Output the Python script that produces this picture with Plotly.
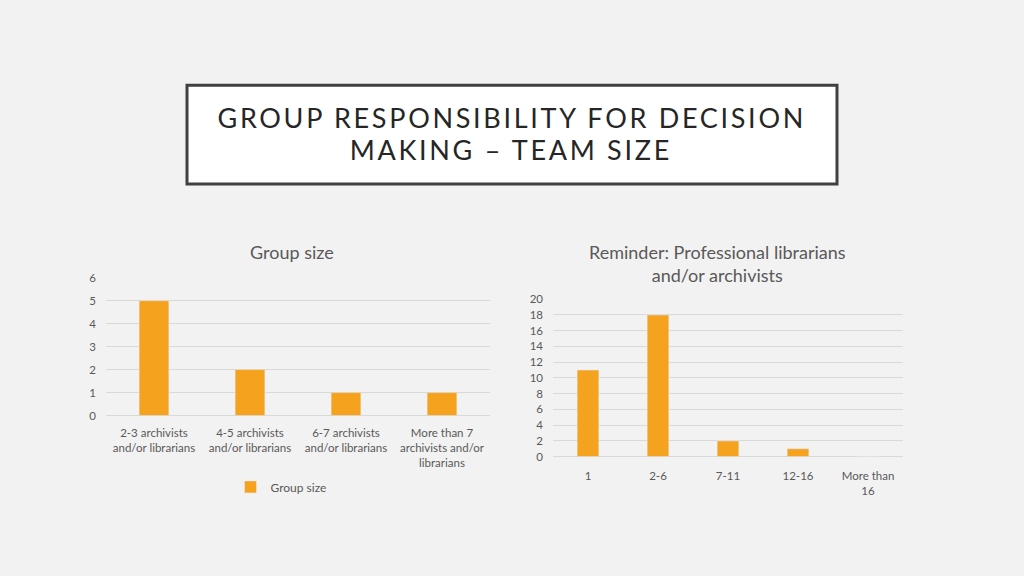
import plotly.graph_objects as go

W, H = 1024, 576

# Data
left_categories = ["2-3 archivists<br>and/or librarians", "4-5 archivists<br>and/or librarians",
                   "6-7 archivists<br>and/or librarians", "More than 7<br>archivists and/or<br>librarians"]
left_values = [5, 2, 1, 1]
right_categories = ["1", "2-6", "7-11", "12-16", "More than<br>16"]
right_values = [11, 18, 2, 1, 0]

title_lines = ["GROUP RESPONSIBILITY FOR DECISION", "MAKING – TEAM SIZE"]
left_title = "Group size"
right_title = "Reminder: Professional librarians<br>and/or archivists"
legend_name = "Group size"

BAR = "#F5A31F"
TXT = "#595959"
GRID = "#D9D9D9"
FONT = "Lato"

def px(x):
    return x / W

def py(y):
    return 1 - y / H

fig = go.Figure()
fig.add_trace(go.Bar(x=left_categories, y=left_values, marker_color=BAR, name=legend_name,
                     xaxis="x", yaxis="y", showlegend=True))
fig.add_trace(go.Bar(x=right_categories, y=right_values, marker_color=BAR, name="Reminder",
                     xaxis="x2", yaxis="y2", showlegend=False))

axis_common = dict(showline=False, ticks="", tickfont=dict(family=FONT, size=11.5, color=TXT))

fig.update_layout(
    width=W, height=H,
    margin=dict(l=0, r=0, t=0, b=0),
    paper_bgcolor="#F2F2F2", plot_bgcolor="rgba(0,0,0,0)",
    bargap=0.69,
    font=dict(family=FONT, color=TXT),
    xaxis=dict(domain=[px(106), px(490)], anchor="y", showgrid=False, zeroline=False,
               ticklabelstandoff=9, **axis_common),
    yaxis=dict(domain=[py(418), py(276.5)], anchor="x", range=[0, 6.02], dtick=1, showgrid=True,
               gridcolor=GRID, gridwidth=1, zeroline=True, zerolinecolor=GRID, zerolinewidth=1,
               ticklabelstandoff=9, **axis_common),
    xaxis2=dict(domain=[px(553), px(903)], anchor="y2", showgrid=False, zeroline=False,
                ticklabelstandoff=11, **axis_common),
    yaxis2=dict(domain=[py(460), py(298.5)], anchor="x2", range=[0, 20.06], dtick=2, showgrid=True,
                gridcolor=GRID, gridwidth=1, zeroline=True, zerolinecolor=GRID, zerolinewidth=1,
                ticklabelstandoff=9, **axis_common),
    legend=dict(orientation="h", x=px(281), y=py(491), xanchor="center", yanchor="middle",
                font=dict(family=FONT, size=12, color=TXT), bgcolor="rgba(0,0,0,0)",
                itemwidth=30),
    showlegend=True,
)

fig.add_shape(type="rect", xref="paper", yref="paper", x0=px(187), x1=px(837), y0=py(181), y1=py(80),
              line=dict(color="#404040", width=3), fillcolor="white", layer="below")

fig.add_annotation(text=title_lines[0], xref="paper", yref="paper", x=px(511), y=py(113),
                   showarrow=False, xanchor="center", yanchor="middle",
                   font=dict(family=FONT, size=27, color="#262626"))
fig.add_annotation(text=title_lines[1], xref="paper", yref="paper", x=px(511), y=py(146),
                   showarrow=False, xanchor="center", yanchor="middle",
                   font=dict(family=FONT, size=27, color="#262626"))

fig.add_annotation(text=left_title, xref="paper", yref="paper", x=px(292), y=py(251),
                   showarrow=False, xanchor="center", yanchor="middle",
                   font=dict(family=FONT, size=18, color=TXT))
fig.add_annotation(text=right_title, xref="paper", yref="paper", x=px(717), y=py(262),
                   showarrow=False, xanchor="center", yanchor="middle",
                   font=dict(family=FONT, size=18, color=TXT))

post = """
document.body.style.margin = '0';
document.body.style.overflow = 'hidden';
document.querySelectorAll('.annotation-text').forEach(function (t) {
  if (t.textContent.indexOf('RESPONSIBILITY') >= 0 || t.textContent.indexOf('TEAM SIZE') >= 0) {
    t.style.letterSpacing = '2.7px';
  }
});
"""

fig.write_html("out.html", post_script=post, config={"displayModeBar": False})
